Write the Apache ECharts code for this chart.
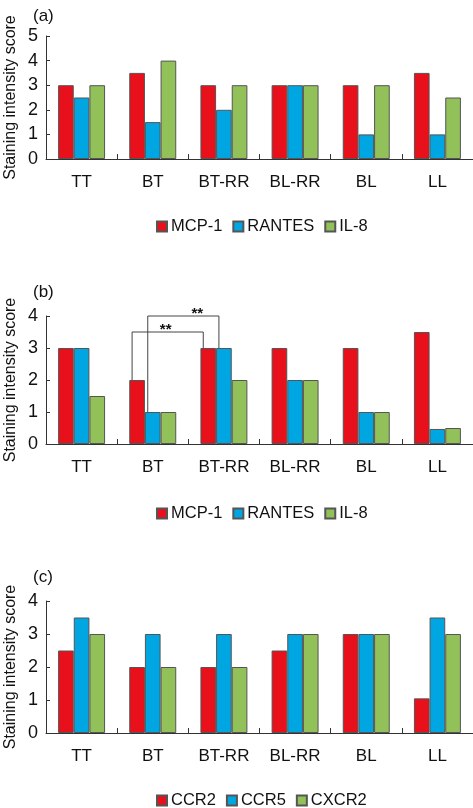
<!DOCTYPE html>
<html><head><meta charset="utf-8">
<script src="https://cdn.jsdelivr.net/npm/echarts@6/dist/echarts.min.js"></script>
<style>html,body{margin:0;padding:0;background:#fff}#c{width:473px;height:808px}</style>
</head><body><div id="c"></div>
<script>
var categories = ['TT','BT','BT-RR','BL-RR','BL','LL'];
var namesAB = ['MCP-1','RANTES','IL-8'];
var namesC = ['CCR2','CCR5','CXCR2'];
var aMCP1 = [3,3.5,3,3,3,3.5];
var aRANTES = [2.5,1.5,2,3,1,1];
var aIL8 = [3,4,3,3,3,2.5];
var bMCP1 = [3,2,3,3,3,3.5];
var bRANTES = [3,1,3,2,1,0.47];
var bIL8 = [1.5,1,2,2,1,0.5];
var cCCR2 = [2.5,2,2,2.5,3,1.05];
var cCCR5 = [3.5,3,3,3,3,3.5];
var cCXCR2 = [3,2,2,3,3,3];
var yMaxA = 5, yMaxB = 4, yMaxC = 4;
var panelLabels = ['(a)','(b)','(c)'];
// significance brackets in panel (b): [catFrom, seriesFrom, catTo, seriesTo, bracketTop]
var brackets = [[1,0,2,0,3.5],[1,1,2,1,4]];
var starText = '**';

var colors = ['#e8101a','#00a6e2','#92c15a'];
var FONT = 'Liberation Sans, Arial, Helvetica, sans-serif';
var chart = echarts.init(document.getElementById('c'));
var grids = [
  {left:46, width:427, top:36, height:123, outerBoundsMode:'none', containLabel:false},
  {left:46, width:427, top:316, height:128, outerBoundsMode:'none', containLabel:false},
  {left:46, width:427, top:601, height:132, outerBoundsMode:'none', containLabel:false}
];
var axisLine = {show:true, lineStyle:{color:'#333', width:1}};
function xAx(i){return {type:'category', gridIndex:i, data:categories,
  axisLine:axisLine, axisTick:{show:true, inside:true, length:5, lineStyle:{color:'#333'}},
  axisLabel:{color:'#111', fontSize:17, fontFamily:FONT, margin:15}};}
function yAx(i,max){return {type:'value', gridIndex:i, min:0, max:max, interval:1,
  name:'Staining intensity score', nameLocation:'middle', nameGap:27, nameMoveOverlap:false,
  nameTextStyle:{color:'#111', fontSize:16, fontFamily:FONT},
  axisLine:axisLine, axisTick:{show:true, inside:true, length:4, lineStyle:{color:'#333'}},
  splitLine:{show:false}, axisLabel:{color:'#111', fontSize:18, fontFamily:FONT, margin:8}};}
var sets = [[aMCP1,aRANTES,aIL8],[bMCP1,bRANTES,bIL8],[cCCR2,cCCR5,cCXCR2]];
var nameSets = [namesAB, namesAB, namesC];
var series = [];
sets.forEach(function(s,gi){
  s.forEach(function(d,k){
    series.push({type:'bar', name:nameSets[gi][k]+'#'+gi, xAxisIndex:gi, yAxisIndex:gi, data:d,
      barGap:'0%', barCategoryGap:'34%',
      itemStyle:{color:colors[k], borderColor:'#555', borderWidth:1}});
  });
});
var legendTops = [213, 500, 787];
var legends = [0,1,2].map(function(gi){
  return {top:legendTops[gi], left:151, itemWidth:10, itemHeight:10, itemGap:10, icon:'rect',
    data:nameSets[gi].map(function(n){return n+'#'+gi;}),
    formatter:function(n){return n.split('#')[0];},
    selectedMode:false,
    textStyle:{color:'#111', fontSize:16.5, fontFamily:FONT, padding:[0,0,0,-1]}};
});
var titleTops = [3, 279, 564];
var titles = panelLabels.map(function(t,i){return {text:t, left:28, top:titleTops[i],
  textStyle:{fontSize:17, fontWeight:'normal', color:'#111', fontFamily:FONT}};});
chart.setOption({
  animation:false,
  title:titles,
  grid:grids,
  xAxis:[xAx(0),xAx(1),xAx(2)],
  yAxis:[yAx(0,yMaxA),yAx(1,yMaxB),yAx(2,yMaxC)],
  legend:legends,
  series:series
});
// brackets in panel b
var catW = grids[1].width/categories.length;
var bw = catW*(1-0.34)/3;
var dataB = sets[1];
var graphics = [];
var starOffsets = [-2, 14];
brackets.forEach(function(b,bi){
  var p1 = chart.convertToPixel({gridIndex:1},[b[0], dataB[b[1]][b[0]]]);
  var p2 = chart.convertToPixel({gridIndex:1},[b[2], dataB[b[3]][b[2]]]);
  var top = chart.convertToPixel({gridIndex:1},[0, b[4]])[1];
  var x1 = p1[0] + (b[1]-1)*bw - 5;
  var x2 = p2[0] + (b[3]-1)*bw - 5;
  graphics.push({type:'polyline', shape:{points:[[x1,p1[1]],[x1,top],[x2,top],[x2,p2[1]]]},
    style:{stroke:'#444', lineWidth:1, fill:null}, z:10});
  graphics.push({type:'text', x:(x1+x2)/2 + starOffsets[bi], y:top+5,
    style:{text:starText, fill:'#111', font:'bold 15px '+FONT, textAlign:'center', textVerticalAlign:'bottom'}, z:10});
});
chart.setOption({graphic:graphics});
</script></body></html>
